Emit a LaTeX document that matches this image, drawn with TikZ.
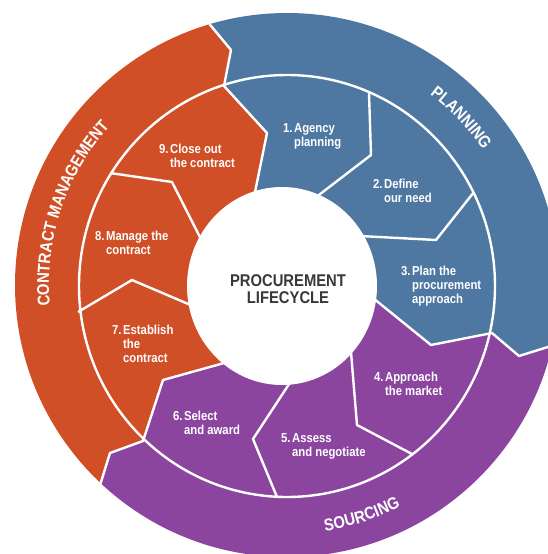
\documentclass[tikz,border=0pt]{standalone}
\usepackage{fontspec}
\setmainfont{Liberation Sans}
\newfontfamily\condfont[FakeStretch=0.87]{Liberation Sans}
\usetikzlibrary{decorations.text}

\definecolor{manage}{HTML}{D14F27}
\definecolor{plan}{HTML}{4E78A2}
\definecolor{source}{HTML}{8B459F}
\definecolor{hub}{HTML}{383838}

\newcommand\ringfont{\condfont\bfseries\fontsize{17}{20}\selectfont}
\newcommand\stepname[2]{\begin{tabular}[t]{@{}l@{\hspace{1.5pt}}l@{}}#1.&#2\end{tabular}}

\tikzset{
  sepline/.style={white, line width=2.4pt, line join=round},
  steplabel/.style={anchor=base west, inner sep=0pt, text=white,
    font=\condfont\bfseries\fontsize{13}{14}\selectfont},
  ringlabel/.style={decorate, decoration={text along path, text align=center,
    text color=white, text={|\ringfont|#1}}}
}

\begin{document}
\begin{tikzpicture}[x=1pt,y=-1pt]
\useasboundingbox (0,0) rectangle (548,554);

% Secteurs
\begin{scope}
  \clip (0,0) rectangle (548,554);
  \clip (287,285) circle[radius=272];
  \fill[plan] (282,286) -- (252,207) -- (267,133) -- (224,86) -- (231,50) -- (197,9)
     -- (180,-40) -- (600,-40) -- (600,330) -- (580,337) -- (519,356) -- (492,333)
     -- (431,345) -- (368,294) -- cycle;
  \fill[source] (282,286) -- (368,294) -- (431,345) -- (492,333) -- (519,356) -- (580,337)
     -- (600,330) -- (600,600) -- (60,600) -- (92,511) -- (100,485) -- (110,453)
     -- (143,441) -- (163,380) -- (235,360) -- cycle;
  \fill[manage] (282,286) -- (235,360) -- (163,380) -- (143,441) -- (110,453) -- (100,485)
     -- (92,511) -- (60,600) -- (-50,600) -- (-50,-40) -- (180,-40) -- (197,9)
     -- (231,50) -- (224,86) -- (267,133) -- (252,207) -- cycle;

% Separations
  \draw[sepline] (287,286) ellipse[x radius=208, y radius=211];
  \draw[sepline] (252,207) -- (267,133) -- (224,86) -- (231,50) -- (197,9);
  \draw[sepline] (368,294) -- (431,345) -- (492,333) -- (519,356) -- (580,337);
  \draw[sepline] (235,360) -- (163,380) -- (143,441) -- (110,453) -- (92,511);
  \foreach \a/\b/\c in {{315,198}/{371,155}/{369,93}, {360,236}/{436,240}/{474,192},
      {350,340}/{357,425}/{412,454}, {295,375}/{253,439}/{277,497},
      {200,309}/{132,280}/{78,312}, {206,249}/{172,182}/{110,173}}
    \draw[sepline] (\a) -- (\b) -- (\c);
\end{scope}

% Centre
  \fill[white] (282,286) ellipse[x radius=95, y radius=99];
  \node[font=\condfont\bfseries\fontsize{17}{16.5}\selectfont, text=hub, align=center]
    (hub) at (288,289) {PROCUREMENT\\LIFECYCLE};

% Etapes
  \foreach \x/\y/\n/\txt in {283/132/1/{Agency\\&planning}, 373/188/2/{Define\\&our need},
      401/275/3/{Plan the\\&procurement\\&approach}, 374/381/4/{Approach\\&the market},
      281/442/5/{Assess\\&and negotiate}, 173/420/6/{Select\\&and award},
      112/334/7/{Establish\\&the\\&contract}, 95/240/8/{Manage the\\&contract},
      159/153/9/{Close out\\&the contract}}
    \node[steplabel] (step\n) at (\x,\y) {\stepname{\n}{\txt}};

% Phases
  \path[ringlabel=PLANNING] (287,285) ++(63.8:238pt)
    arc[start angle=63.8, end angle=23.8, radius=238pt];
  \path[ringlabel=CONTRACT MANAGEMENT] (287,285) ++(191.6:238pt)
    arc[start angle=191.6, end angle=131.6, radius=238pt];
  \path[ringlabel=SOURCING] (287,285) ++(-92:249pt)
    arc[start angle=-92, end angle=-52, radius=249pt];

\end{tikzpicture}
\end{document}
